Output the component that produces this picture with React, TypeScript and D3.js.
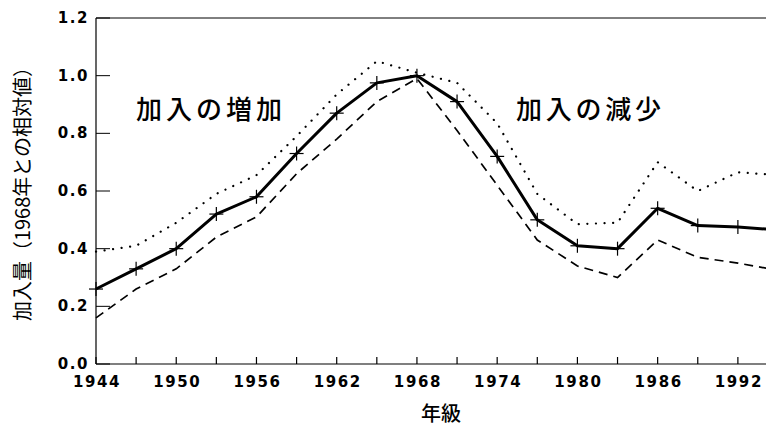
import React, { useRef, useEffect } from 'react';
import * as d3 from 'd3';

const years = [1944, 1947, 1950, 1953, 1956, 1959, 1962, 1965, 1968, 1971, 1974, 1977, 1980, 1983, 1986, 1989, 1992, 1995];
const central = [0.26, 0.33, 0.40, 0.52, 0.58, 0.73, 0.87, 0.975, 1.0, 0.91, 0.72, 0.50, 0.41, 0.40, 0.54, 0.48, 0.475, 0.465];
const lower = [0.16, 0.26, 0.33, 0.44, 0.51, 0.66, 0.78, 0.91, 0.99, 0.81, 0.62, 0.43, 0.34, 0.30, 0.43, 0.37, 0.35, 0.325];
const upper = [0.39, 0.41, 0.49, 0.59, 0.655, 0.79, 0.935, 1.05, 1.01, 0.975, 0.835, 0.59, 0.485, 0.49, 0.70, 0.60, 0.665, 0.655];
const xTickLabels = [1944, 1950, 1956, 1962, 1968, 1974, 1980, 1986, 1992];
const yTicks = [0, 0.2, 0.4, 0.6, 0.8, 1.0, 1.2];

const W = 766;
const H = 428;

export default function App() {
  const ref = useRef<SVGSVGElement>(null);

  useEffect(() => {
    if (!ref.current) return;
    const svg = d3.select(ref.current);
    svg.selectAll('*').remove();

    const x = d3.scaleLinear().domain([1944, 1995]).range([96, 778]);
    const y = d3.scaleLinear().domain([0, 1.2]).range([364, 18]);

    const g = svg.append('g');

    // frame: left, bottom, top
    g.append('line').attr('x1', 96).attr('x2', 96).attr('y1', y(0)).attr('y2', y(1.2))
      .attr('stroke', '#000').attr('stroke-width', 1.2);
    g.append('line').attr('x1', 96).attr('x2', W).attr('y1', y(0)).attr('y2', y(0))
      .attr('stroke', '#000').attr('stroke-width', 1.2);
    g.append('line').attr('x1', 96).attr('x2', W).attr('y1', y(1.2)).attr('y2', y(1.2))
      .attr('stroke', '#000').attr('stroke-width', 1);

    // x ticks every 3 years
    const xt = d3.range(1944, 1996, 3);
    g.selectAll('.xt').data(xt).enter().append('line')
      .attr('x1', d => x(d)).attr('x2', d => x(d))
      .attr('y1', y(0)).attr('y2', y(0) - 7)
      .attr('stroke', '#000').attr('stroke-width', 1.2);

    g.selectAll('.xl').data(xTickLabels).enter().append('text')
      .attr('x', d => x(d) + 1).attr('y', 387)
      .attr('text-anchor', 'middle')
      .style('font-family', 'DejaVu Sans').style('font-weight', 'bold')
      .style('font-size', '15px').style('letter-spacing', '1.6px')
      .text(d => d);

    g.selectAll('.yt').data(yTicks).enter().append('line')
      .attr('x1', 96).attr('x2', 110)
      .attr('y1', d => y(d)).attr('y2', d => y(d))
      .attr('stroke', '#000').attr('stroke-width', 1);

    g.selectAll('.yl').data(yTicks).enter().append('text')
      .attr('x', 89).attr('y', d => y(d) + 5)
      .attr('text-anchor', 'end')
      .style('font-family', 'DejaVu Sans').style('font-weight', 'bold')
      .style('font-size', '15px').style('letter-spacing', '1.6px')
      .text(d => d.toFixed(1));

    const line = d3.line<number>()
      .x((_, i) => x(years[i]))
      .y(d => y(d));

    g.append('path').datum(upper).attr('d', line)
      .attr('fill', 'none').attr('stroke', '#000').attr('stroke-width', 2.2)
      .attr('stroke-linecap', 'round').attr('stroke-dasharray', '0.1,8.5');

    g.append('path').datum(lower).attr('d', line)
      .attr('fill', 'none').attr('stroke', '#000').attr('stroke-width', 1.7)
      .attr('stroke-dasharray', '9,6');

    g.append('path').datum(central).attr('d', line)
      .attr('fill', 'none').attr('stroke', '#000').attr('stroke-width', 3)
      .attr('stroke-linejoin', 'round');

    const marks = g.selectAll('.mk').data(central).enter().append('g')
      .attr('transform', (d, i) => `translate(${x(years[i])},${y(d)})`);
    marks.append('line').attr('x1', -7).attr('x2', 7).attr('y1', 0).attr('y2', 0)
      .attr('stroke', '#000').attr('stroke-width', 1.2);
    marks.append('line').attr('x1', 0).attr('x2', 0).attr('y1', -7).attr('y2', 7)
      .attr('stroke', '#000').attr('stroke-width', 1.2);

    const jp = 'Noto Sans CJK JP';
    g.append('text').attr('x', 136).attr('y', 119)
      .style('font-family', jp).style('font-size', '26px').style('font-weight', 500)
      .attr('textLength', 146).attr('lengthAdjust', 'spacing')
      .text('加入の増加');
    g.append('text').attr('x', 516).attr('y', 119)
      .style('font-family', jp).style('font-size', '26px').style('font-weight', 500)
      .attr('textLength', 145).attr('lengthAdjust', 'spacing')
      .text('加入の減少');

    g.append('text').attr('x', 441).attr('y', 421).attr('text-anchor', 'middle')
      .style('font-family', jp).style('font-size', '20px').style('font-weight', 500)
      .text('年級');

    g.append('text')
      .attr('transform', `translate(30,189) rotate(-90)`)
      .attr('text-anchor', 'middle')
      .style('font-family', jp).style('font-size', '20px')
      .text('加入量（1968年との相対値）');
  }, []);

  return (
    <svg ref={ref} width={W} height={H}
      style={{ position: 'absolute', left: 0, top: 0, background: '#fff', overflow: 'hidden' }} />
  );
}
